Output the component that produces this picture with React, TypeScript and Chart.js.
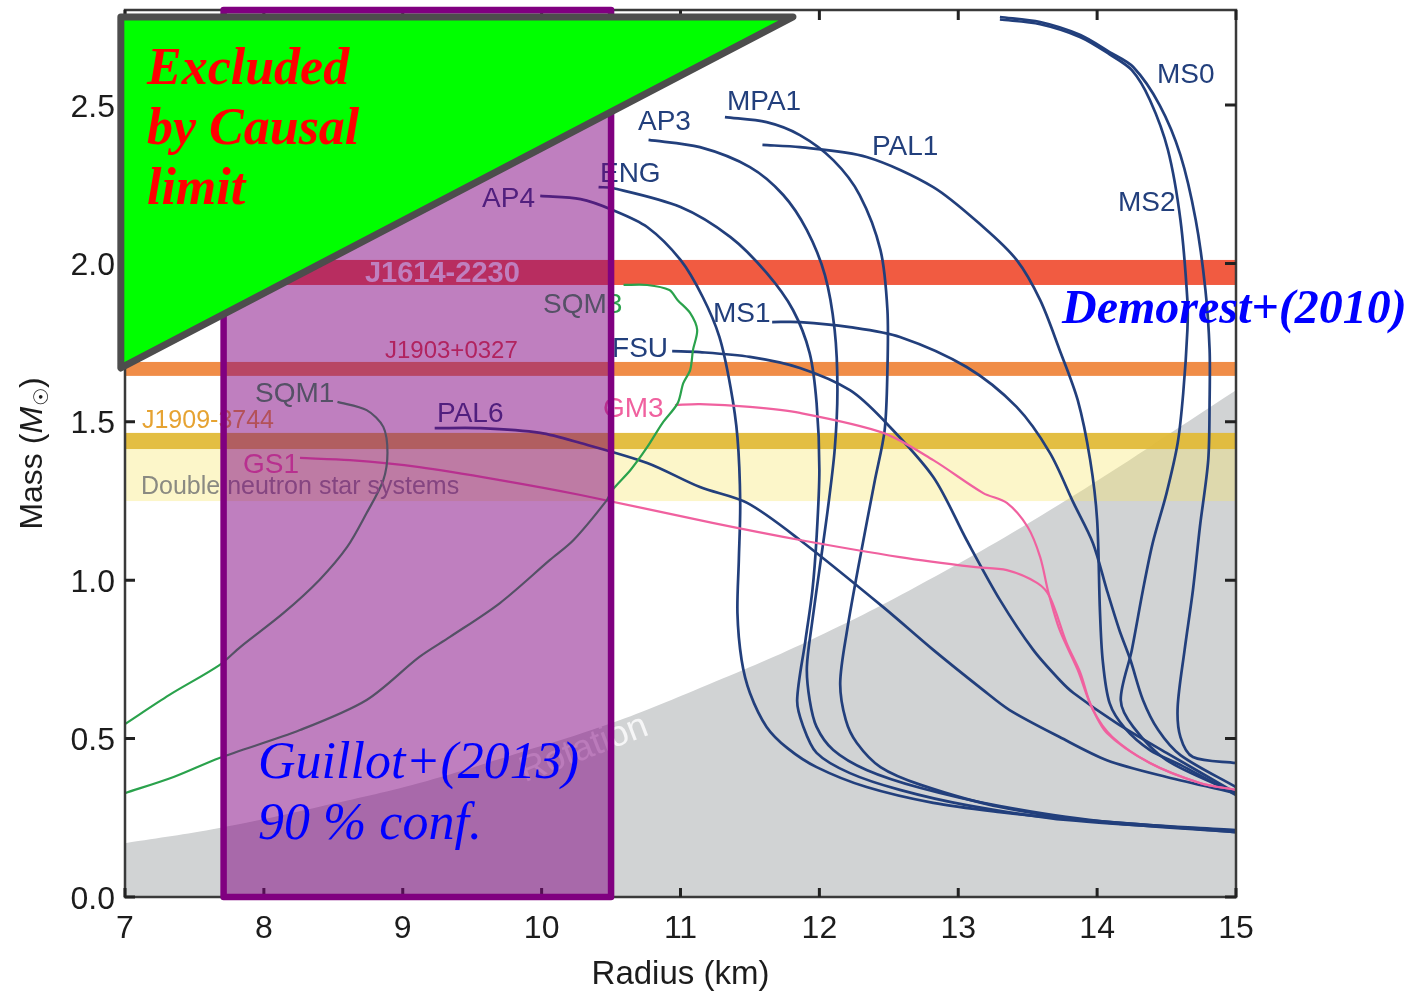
import { useEffect, useRef } from 'react';
import { Chart, registerables } from 'chart.js';

Chart.register(...registerables);

const W = 1410;
const H = 994;

// Axis ranges and tick values
const xRange = [7, 15];
const yRange = [0, 2.8];
const xTicks = [7, 8, 9, 10, 11, 12, 13, 14, 15];
const yTicks = [0, 0.5, 1.0, 1.5, 2.0, 2.5];

// Mass–radius relations: radius (km) and gravitational mass (solar masses)
const ap4R = [9.99, 10.28, 10.51, 10.76, 11.0, 11.16, 11.28, 11.36, 11.41, 11.43, 11.42, 11.41, 11.44, 11.5, 11.62, 11.77, 11.98, 12.34, 12.82, 13.3, 13.73, 14.38, 15.0];
const ap4M = [2.213, 2.203, 2.169, 2.115, 2.011, 1.894, 1.768, 1.61, 1.452, 1.244, 1.064, 0.896, 0.748, 0.644, 0.537, 0.47, 0.41, 0.347, 0.297, 0.268, 0.249, 0.227, 0.205];

const engR = [10.41, 10.51, 11.0, 11.36, 11.62, 11.81, 11.93, 11.98, 12.0, 11.98, 11.95, 11.9, 11.84, 11.88, 11.98, 12.22, 12.58, 13.06, 13.78, 15.0];
const engM = [2.241, 2.238, 2.178, 2.083, 1.97, 1.853, 1.717, 1.559, 1.348, 1.136, 0.969, 0.811, 0.622, 0.543, 0.455, 0.391, 0.338, 0.29, 0.243, 0.208];

const ap3R = [10.77, 11.14, 11.5, 11.74, 11.91, 12.04, 12.11, 12.13, 12.11, 12.06, 12.0, 11.95, 11.91, 11.93, 11.98, 12.1, 12.34, 12.73, 13.3, 14.02, 15.0];
const ap3M = [2.39, 2.367, 2.304, 2.216, 2.105, 1.963, 1.79, 1.6, 1.411, 1.222, 1.032, 0.874, 0.726, 0.622, 0.537, 0.464, 0.401, 0.344, 0.287, 0.24, 0.211];

const mpa1R = [11.32, 11.62, 11.86, 12.1, 12.29, 12.44, 12.49, 12.49, 12.47, 12.4, 12.29, 12.2, 12.15, 12.19, 12.27, 12.44, 12.73, 13.3, 14.02, 15.0];
const mpa1M = [2.462, 2.446, 2.405, 2.326, 2.216, 2.042, 1.853, 1.664, 1.474, 1.316, 1.064, 0.843, 0.676, 0.559, 0.486, 0.41, 0.354, 0.284, 0.237, 0.205];

const pal1R = [11.59, 11.86, 12.34, 12.82, 13.18, 13.42, 13.59, 13.73, 13.86, 13.95, 14.0, 14.02, 14.04, 14.09, 14.2, 14.38, 14.6, 15.0];
const pal1M = [2.374, 2.367, 2.336, 2.241, 2.115, 2.011, 1.884, 1.727, 1.569, 1.379, 1.19, 0.906, 0.748, 0.612, 0.533, 0.464, 0.417, 0.322];

const ms1R = [11.66, 11.86, 12.22, 12.58, 13.06, 13.42, 13.66, 13.83, 13.97, 14.07, 14.16, 14.24, 14.33, 14.44, 14.6, 15.0];
const ms1M = [1.815, 1.815, 1.799, 1.768, 1.673, 1.547, 1.402, 1.244, 1.117, 0.969, 0.843, 0.748, 0.622, 0.527, 0.448, 0.347];

const ms0R = [13.3, 13.59, 13.88, 14.09, 14.26, 14.45, 14.6, 14.71, 14.78, 14.81, 14.81, 14.8, 14.74, 14.69, 14.63, 14.58, 14.6, 14.69, 15.0];
const ms0M = [2.778, 2.762, 2.721, 2.667, 2.62, 2.5, 2.342, 2.137, 1.916, 1.727, 1.569, 1.379, 1.168, 0.969, 0.78, 0.6, 0.505, 0.442, 0.423];

const ms2R = [13.3, 13.59, 13.88, 14.09, 14.25, 14.38, 14.51, 14.6, 14.65, 14.65, 14.62, 14.58, 14.5, 14.4, 14.33, 14.25, 14.17, 14.26, 14.5, 15.0];
const ms2M = [2.77, 2.755, 2.714, 2.66, 2.61, 2.516, 2.358, 2.137, 1.884, 1.79, 1.591, 1.433, 1.275, 1.117, 0.969, 0.78, 0.622, 0.537, 0.432, 0.328];

const fsuR = [10.94, 11.14, 11.5, 11.86, 12.22, 12.46, 12.82, 13.06, 13.3, 13.54, 13.73, 13.83, 14.14, 14.5, 15.0];
const fsuM = [1.723, 1.72, 1.705, 1.67, 1.6, 1.506, 1.326, 1.127, 0.938, 0.78, 0.685, 0.644, 0.549, 0.455, 0.328];

const pal6R = [9.23, 9.56, 9.99, 10.28, 10.76, 11.14, 11.48, 11.86, 12.46, 12.82, 13.18, 13.37, 13.73, 14.07, 14.5, 15.0];
const pal6M = [1.48, 1.48, 1.465, 1.433, 1.37, 1.294, 1.244, 1.127, 0.915, 0.78, 0.653, 0.59, 0.505, 0.432, 0.379, 0.328];

const gm3R = [10.96, 11.14, 11.5, 11.86, 12.46, 12.82, 13.18, 13.35, 13.5, 13.59, 13.65, 13.73, 13.86, 13.97, 14.11, 14.38, 14.74, 15.0];
const gm3M = [1.553, 1.556, 1.547, 1.528, 1.465, 1.379, 1.275, 1.244, 1.168, 1.073, 0.96, 0.843, 0.717, 0.59, 0.505, 0.423, 0.36, 0.338];

const gs1R = [8.26, 8.62, 9.12, 9.7, 10.28, 11.23, 11.86, 12.58, 13.11, 13.35, 13.57, 13.66, 13.78, 13.88, 13.95, 14.07, 14.38, 14.74, 15.0];
const gs1M = [1.386, 1.379, 1.357, 1.316, 1.269, 1.181, 1.127, 1.073, 1.042, 1.032, 0.991, 0.947, 0.802, 0.707, 0.612, 0.518, 0.423, 0.36, 0.338];

const sqm1R = [7.0, 7.32, 7.68, 7.83, 8.14, 8.4, 8.6, 8.74, 8.86, 8.89, 8.86, 8.74, 8.53];
const sqm1M = [0.546, 0.638, 0.732, 0.789, 0.896, 1.001, 1.105, 1.212, 1.316, 1.402, 1.484, 1.537, 1.563];

const sqm3R = [7.0, 7.35, 7.68, 8.26, 8.74, 9.12, 9.34, 9.7, 10.06, 10.23, 10.47, 10.51, 10.64, 10.76, 10.87, 10.98, 11.02, 11.07, 11.09, 11.12, 11.07, 10.98, 10.92, 10.76, 10.59];
const sqm3M = [0.328, 0.379, 0.439, 0.527, 0.622, 0.758, 0.821, 0.928, 1.064, 1.127, 1.253, 1.285, 1.348, 1.42, 1.496, 1.559, 1.622, 1.664, 1.727, 1.79, 1.843, 1.884, 1.916, 1.932, 1.932];

// Region excluded by rotation (boundary from 7 km to 15 km)
const rotR = [7.0, 7.68, 8.4, 9.12, 9.8, 10.51, 11.14, 11.93, 12.7, 13.73, 15.0];
const rotM = [0.17, 0.218, 0.285, 0.36, 0.45, 0.55, 0.66, 0.81, 0.98, 1.24, 1.6];

// Measured pulsar masses (lower / upper bounds)
const bandNames = ['J1614-2230', 'J1903+0327', 'J1909-3744', 'Double neutron star systems'];
const bandLow = [1.932, 1.645, 1.414, 1.25];
const bandHigh = [2.011, 1.689, 1.465, 1.414];

// Guillot+(2013) radius interval, 90 % confidence
const guillotR = [7.71, 10.5];

// Causality limit: corners of the excluded wedge (R, M)
const causalR = [6.97, 11.81, 6.97];
const causalM = [2.778, 2.778, 1.67];

const NAVY = '#223f7c';
const PINK = '#f0619f';
const GREEN = '#2aa24c';
const SANS = '"Liberation Sans", Arial, sans-serif';
const SERIF = '"Liberation Serif", "Times New Roman", serif';

const bandStyles = [
  { fill: '#f15b41', label: '#ffffff', font: `bold 29px ${SANS}` },
  { fill: '#f08d48', label: '#e2473e', font: `24px ${SANS}` },
  { fill: 'rgba(226,186,56,0.95)', label: '#e6a332', font: `25px ${SANS}` },
  { fill: 'rgba(245,230,100,0.35)', label: '#8a8a82', font: `25px ${SANS}` },
];
// label anchors (left, baseline) in data units
const bandLabelAt = [
  [8.728, 1.941],
  [8.872, 1.701],
  [7.122, 1.48],
  [7.115, 1.272],
];

const curves = [
  { name: 'SQM3', r: sqm3R, m: sqm3M, color: GREEN, w: 2.2, at: [10.01, 1.843] },
  { name: 'SQM1', r: sqm1R, m: sqm1M, color: GREEN, w: 2.2, at: [7.936, 1.563] },
  { name: 'GS1', r: gs1R, m: gs1M, color: PINK, w: 2.2, at: [7.85, 1.338] },
  { name: 'GM3', r: gm3R, m: gm3M, color: PINK, w: 2.2, at: [10.442, 1.515] },
  { name: 'AP4', r: ap4R, m: ap4M, color: NAVY, w: 2.7, at: [9.571, 2.178] },
  { name: 'ENG', r: engR, m: engM, color: NAVY, w: 2.7, at: [10.42, 2.257] },
  { name: 'AP3', r: ap3R, m: ap3M, color: NAVY, w: 2.7, at: [10.694, 2.421] },
  { name: 'MPA1', r: mpa1R, m: mpa1M, color: NAVY, w: 2.7, at: [11.335, 2.484] },
  { name: 'PAL1', r: pal1R, m: pal1M, color: NAVY, w: 2.7, at: [12.379, 2.342] },
  { name: 'MS1', r: ms1R, m: ms1M, color: NAVY, w: 2.7, at: [11.234, 1.815] },
  { name: 'MS0', r: ms0R, m: ms0M, color: NAVY, w: 2.7, at: [14.431, 2.569] },
  { name: 'MS2', r: ms2R, m: ms2M, color: NAVY, w: 2.7, at: [14.15, 2.165] },
  { name: 'FSU', r: fsuR, m: fsuM, color: NAVY, w: 2.7, at: [10.507, 1.705] },
  { name: 'PAL6', r: pal6R, m: pal6M, color: NAVY, w: 2.7, at: [9.247, 1.499] },
];

const toPoints = (r: number[], m: number[]) => r.map((v, i) => ({ x: v, y: m[i] }));

const overlay = {
  id: 'overlay',
  beforeDatasetsDraw(chart: any) {
    const { ctx, chartArea: a, scales } = chart;
    const y = scales.y;
    ctx.save();
    bandLow.forEach((lo, i) => {
      const top = y.getPixelForValue(bandHigh[i]);
      const bot = y.getPixelForValue(lo);
      ctx.fillStyle = bandStyles[i].fill;
      ctx.fillRect(a.left, top, a.right - a.left, bot - top);
    });
    ctx.restore();
  },
  afterDatasetsDraw(chart: any) {
    const { ctx, chartArea: a, scales } = chart;
    const px = (r: number) => scales.x.getPixelForValue(r);
    const py = (m: number) => scales.y.getPixelForValue(m);
    ctx.save();
    ctx.textAlign = 'left';
    ctx.textBaseline = 'alphabetic';

    // band labels
    bandNames.forEach((t, i) => {
      ctx.font = bandStyles[i].font;
      ctx.fillStyle = bandStyles[i].label;
      ctx.fillText(t, px(bandLabelAt[i][0]), py(bandLabelAt[i][1]));
    });

    // curve labels
    ctx.font = `28px ${SANS}`;
    curves.forEach((c) => {
      ctx.fillStyle = c.color;
      ctx.fillText(c.name, px(c.at[0]), py(c.at[1]));
    });

    // rotation label
    ctx.save();
    ctx.translate(px(9.88), py(0.362));
    ctx.rotate((-21 * Math.PI) / 180);
    ctx.font = `36px ${SANS}`;
    ctx.fillStyle = 'rgba(255,255,255,0.8)';
    ctx.fillText('Rotation', 0, 0);
    ctx.restore();

    // frame
    ctx.strokeStyle = '#3a3a3a';
    ctx.lineWidth = 2.5;
    ctx.strokeRect(a.left, a.top, a.right - a.left, a.bottom - a.top);

    // inward ticks on all four sides
    ctx.strokeStyle = '#222222';
    ctx.lineWidth = 3;
    ctx.beginPath();
    xTicks.forEach((v) => {
      const X = px(v);
      ctx.moveTo(X, a.bottom);
      ctx.lineTo(X, a.bottom - 9);
      ctx.moveTo(X, a.top);
      ctx.lineTo(X, a.top + 10);
    });
    yTicks.forEach((v) => {
      const Y = py(v);
      ctx.moveTo(a.left, Y);
      ctx.lineTo(a.left + 10, Y);
      ctx.moveTo(a.right, Y);
      ctx.lineTo(a.right - 11, Y);
    });
    ctx.stroke();

    // tick labels
    ctx.fillStyle = '#1c1c1c';
    ctx.font = `32px ${SANS}`;
    ctx.textAlign = 'center';
    xTicks.forEach((v) => ctx.fillText(String(v), px(v), a.bottom + 41));
    ctx.textAlign = 'right';
    yTicks.forEach((v) => ctx.fillText(v.toFixed(1), a.left - 10, py(v) + 11.5));

    // axis titles
    ctx.textAlign = 'center';
    ctx.font = `33px ${SANS}`;
    ctx.fillText('Radius (km)', (a.left + a.right) / 2, a.bottom + 87);

    ctx.save();
    ctx.translate(a.left - 83, (a.top + a.bottom) / 2);
    ctx.rotate(-Math.PI / 2);
    ctx.textAlign = 'left';
    const parts: [string, string, number][] = [
      ['Mass (', `32px ${SANS}`, 0],
      ['M', `italic 32px ${SANS}`, 0],
      ['\u2609', `20px "DejaVu Sans", sans-serif`, 6],
      [')', `32px ${SANS}`, 0],
    ];
    let total = 0;
    parts.forEach(([t, f]) => {
      ctx.font = f;
      total += ctx.measureText(t).width + (t === 'M' ? 1 : 0);
    });
    let cx = -total / 2;
    parts.forEach(([t, f, dy]) => {
      ctx.font = f;
      ctx.fillText(t, cx, dy);
      cx += ctx.measureText(t).width + (t === 'M' ? 1 : 0);
    });
    ctx.restore();

    // Guillot+(2013) radius interval
    const gx1 = px(guillotR[0]);
    const gx2 = px(guillotR[1]);
    const gy1 = py(yRange[1]);
    const gy2 = py(yRange[0]);
    ctx.fillStyle = 'rgba(128,0,128,0.5)';
    ctx.fillRect(gx1, gy1, gx2 - gx1, gy2 - gy1);
    ctx.strokeStyle = '#800080';
    ctx.lineWidth = 6.5;
    ctx.lineJoin = 'round';
    ctx.strokeRect(gx1, gy1, gx2 - gx1, gy2 - gy1);

    // causality wedge
    ctx.beginPath();
    causalR.forEach((r, i) => {
      const X = px(r);
      const Y = py(causalM[i]);
      if (i === 0) ctx.moveTo(X, Y);
      else ctx.lineTo(X, Y);
    });
    ctx.closePath();
    ctx.fillStyle = '#00ff00';
    ctx.fill();
    ctx.strokeStyle = '#4d4d4d';
    ctx.lineWidth = 7;
    ctx.stroke();

    // annotations
    ctx.textAlign = 'left';
    ctx.fillStyle = '#ff0000';
    ctx.font = `italic bold 52px ${SERIF}`;
    ctx.fillText('Excluded', px(7.158), py(2.566));
    ctx.fillText('by Causal', px(7.158), py(2.377));
    ctx.fillText('limit', px(7.158), py(2.188));

    ctx.fillStyle = '#0000ff';
    ctx.font = `italic bold 48px ${SERIF}`;
    ctx.fillText('Demorest+(2010)', px(13.747), py(1.812));

    ctx.font = `italic 52px ${SERIF}`;
    ctx.fillText('Guillot+(2013)', px(7.958), py(0.376));
    ctx.fillText('90 % conf.', px(7.958), py(0.183));

    ctx.restore();
  },
};

export default function App() {
  const ref = useRef<HTMLCanvasElement>(null);

  useEffect(() => {
    const canvas = ref.current;
    if (!canvas) return;
    const datasets: any[] = curves.map((c) => ({
      label: c.name,
      data: toPoints(c.r, c.m),
      showLine: true,
      borderColor: c.color,
      borderWidth: c.w,
      pointRadius: 0,
      tension: 0.3,
      fill: false,
    }));
    datasets.push({
      label: 'Rotation',
      data: toPoints(rotR, rotM),
      showLine: true,
      borderColor: 'rgba(0,0,0,0)',
      borderWidth: 0,
      backgroundColor: '#d1d3d4',
      pointRadius: 0,
      tension: 0.4,
      fill: 'start',
    });

    const chart = new Chart(canvas, {
      type: 'scatter',
      data: { datasets },
      options: {
        animation: false,
        responsive: false,
        devicePixelRatio: 1,
        events: [],
        layout: { padding: { left: 125, right: 174, top: 10, bottom: 97 } },
        scales: {
          x: { type: 'linear', min: xRange[0], max: xRange[1], display: false },
          y: { type: 'linear', min: yRange[0], max: yRange[1], display: false },
        },
        plugins: {
          legend: { display: false },
          tooltip: { enabled: false },
          filler: { drawTime: 'beforeDraw' },
        },
      } as any,
      plugins: [overlay],
    });
    return () => chart.destroy();
  }, []);

  return (
    <div style={{ position: 'absolute', left: 0, top: 0, width: W, height: H, background: '#ffffff' }}>
      <canvas ref={ref} width={W} height={H} style={{ display: 'block', width: W, height: H }} />
    </div>
  );
}
